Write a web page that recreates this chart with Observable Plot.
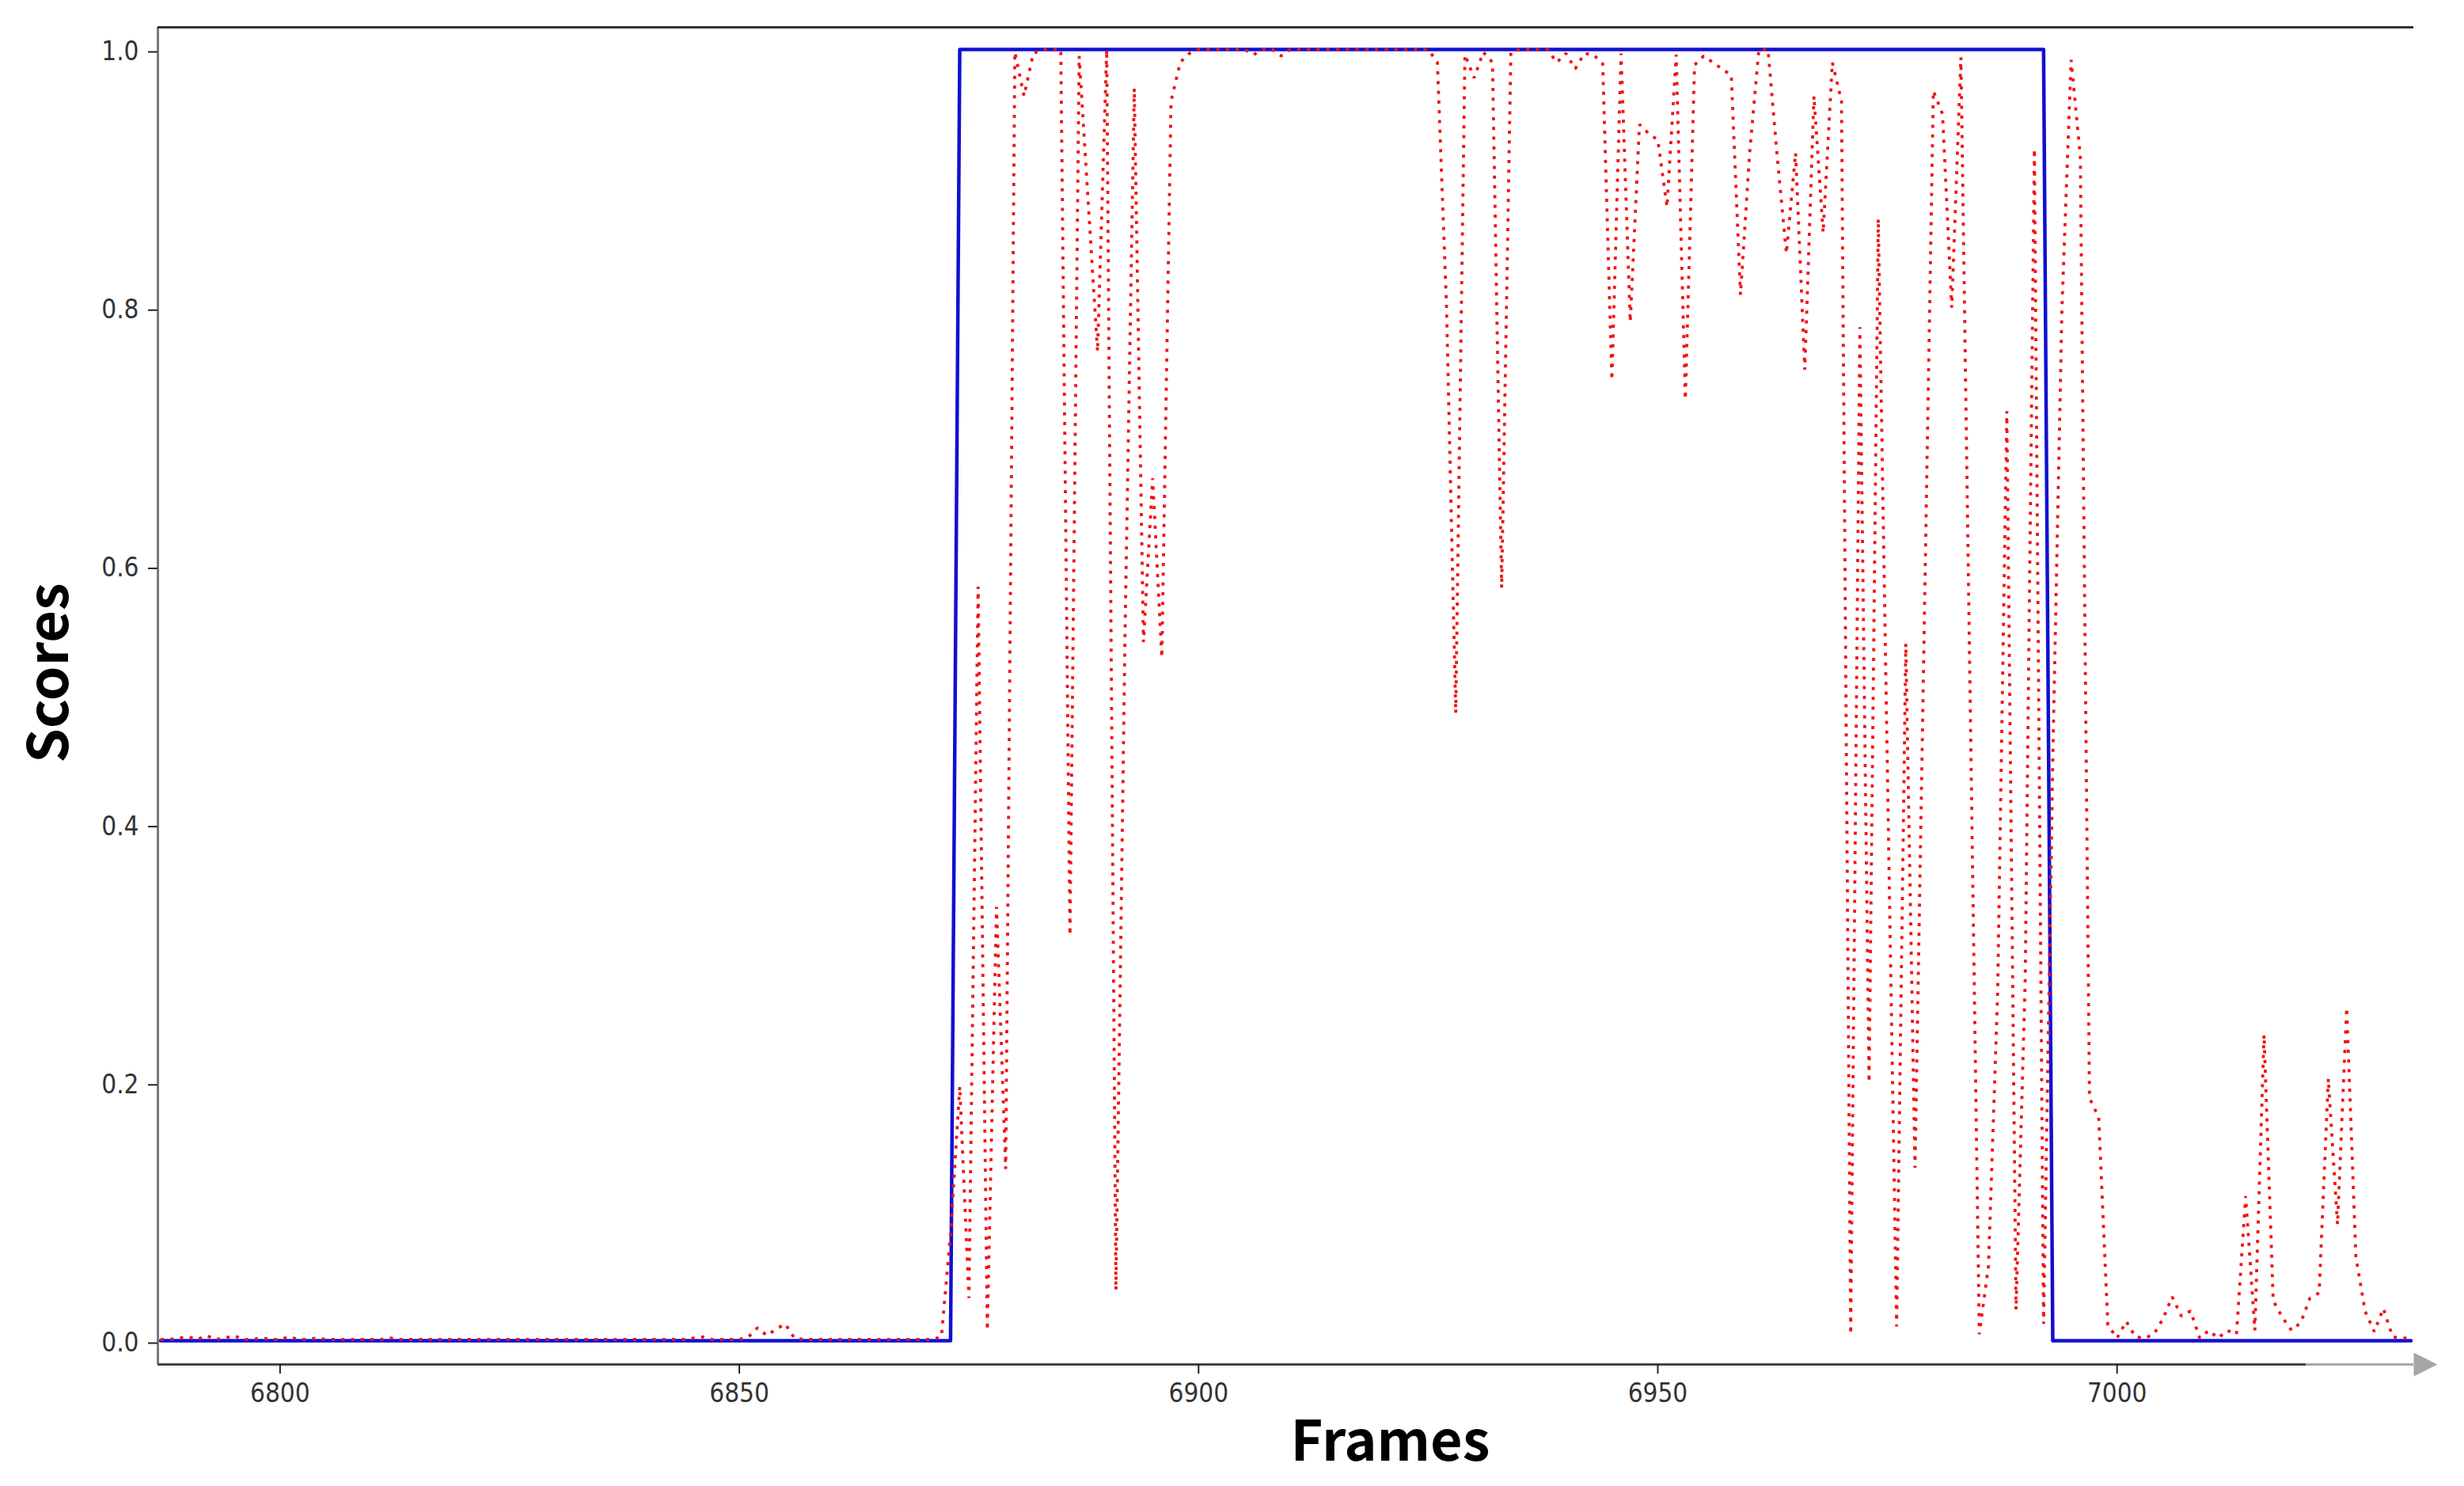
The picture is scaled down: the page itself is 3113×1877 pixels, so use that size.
<!DOCTYPE html>
<html>
<head>
<meta charset="utf-8">
<script src="https://cdn.jsdelivr.net/npm/d3@7"></script>
<script src="https://cdn.jsdelivr.net/npm/@observablehq/plot@0.6"></script>
<style>
  html, body { margin: 0; padding: 0; background: #fff; }
  #chart svg { display: block; }
</style>
</head>
<body>
<div id="chart"></div>
<script>
// ---------- data ----------
const firstFrame = 6787;
// predicted score per frame, 6787 … 7032
const scores = [
  0.001, 0.001, 0.002, 0.003, 0.001, 0.004, 0.001, 0.002, 0.004, 0.001, 0.001, 0.002, 0.001,
  0.001, 0.003, 0.001, 0.001, 0.002, 0.001, 0.001, 0.001, 0.001, 0.001,
  0.001, 0.001, 0.002, 0.001, 0.001, 0.001, 0.001, 0.001, 0.001, 0.001,
  0.001, 0.001, 0.001, 0.001, 0.001, 0.001, 0.001, 0.001, 0.001, 0.001,
  0.001, 0.001, 0.001, 0.001, 0.001, 0.001, 0.001, 0.001, 0.001, 0.001,
  0.001, 0.001, 0.001, 0.001, 0.001, 0.002, 0.003, 0.001, 0.001, 0.001,
  0.001, 0.003, 0.010, 0.004, 0.009, 0.013, 0.002, 0.001, 0.001, 0.001,
  0.001, 0.001, 0.001, 0.001, 0.001, 0.001, 0.001, 0.001, 0.001, 0.001,
  0.001, 0.001, 0.003, 0.083, 0.197, 0.033, 0.584, 0.008, 0.336, 0.133,
  0.998, 0.964, 0.997, 1.000, 1.000, 1.000, 0.314, 0.995, 0.880, 0.766,
  1.000, 0.039, 0.550, 0.970, 0.541, 0.668, 0.529, 0.960, 0.990, 0.997,
  1.000, 1.000, 1.000, 1.000, 1.000, 1.000, 0.996, 1.000, 1.000, 0.995,
  1.000, 1.000, 1.000, 1.000, 1.000, 1.000, 1.000, 1.000, 1.000, 1.000,
  1.000, 1.000, 1.000, 1.000, 1.000, 1.000, 0.990, 0.800, 0.486, 0.996,
  0.978, 0.998, 0.990, 0.583, 0.998, 1.000, 1.000, 1.000, 1.000, 0.990,
  0.997, 0.985, 0.997, 0.996, 0.989, 0.744, 0.997, 0.789, 0.942, 0.935,
  0.930, 0.878, 0.996, 0.729, 0.988, 0.995, 0.990, 0.985, 0.980, 0.810,
  0.920, 1.000, 1.000, 0.917, 0.842, 0.920, 0.752, 0.964, 0.858, 0.990,
  0.960, 0.005, 0.785, 0.200, 0.869, 0.440, 0.011, 0.540, 0.134, 0.550,
  0.968, 0.950, 0.800, 0.994, 0.500, 0.005, 0.058, 0.270, 0.720, 0.024,
  0.280, 0.923, 0.013, 0.450, 0.800, 0.992, 0.917, 0.188, 0.173, 0.012,
  0.002, 0.015, 0.003, 0.002, 0.005, 0.017, 0.034, 0.019, 0.023, 0.002,
  0.008, 0.002, 0.008, 0.005, 0.112, 0.008, 0.237, 0.031, 0.018, 0.008,
  0.014, 0.033, 0.037, 0.203, 0.090, 0.258, 0.065, 0.023, 0.007, 0.025,
  0.003, 0.002, 0.002
];
// ground-truth step (breakpoints)
const gtFrames = [6787, 6873, 6874, 6992, 6993, 7032];
const gtValues = [0, 0, 1, 1, 0, 0];

const xTicks = [6800, 6850, 6900, 6950, 7000];
const yTicks = [0, 0.2, 0.4, 0.6, 0.8, 1.0];
const xLabel = "Frames";
const yLabel = "Scores";
const axisFadeStart = 7020.6;   // where the bottom axis turns light grey

// ---------- build ----------
const frames = d3.range(firstFrame, firstFrame + scores.length);
const pred = frames.map((f, i) => ({frame: f, score: scores[i]}));
const gt = gtFrames.map((f, i) => ({frame: f, score: gtValues[i]}));

const xDomain = [6786.7, 7032.3];
const yDomain = [-0.0184, 1.0172];
const tickFont = '"DejaVu Sans Condensed", "DejaVu Sans", sans-serif';
const labelFont = '"Noto Sans CJK SC", "Noto Sans", sans-serif';

const rightTriangle = {
  draw(ctx, size) {
    const h = Math.sqrt(size);
    ctx.moveTo(h / 2, 0);
    ctx.lineTo(-h / 2, -h / 2);
    ctx.lineTo(-h / 2, h / 2);
    ctx.closePath();
  }
};

const chart = Plot.plot({
  width: 3113,
  height: 1877,
  marginLeft: 199,
  marginRight: 64,
  marginTop: 34,
  marginBottom: 154,
  x: {domain: xDomain},
  y: {domain: yDomain},
  style: {background: "#fff", fontFamily: tickFont, overflow: "visible"},
  marks: [
    Plot.line(gt, {x: "frame", y: "score", stroke: "#1010d0", strokeWidth: 4.5, clip: true}),
    Plot.line(pred, {x: "frame", y: "score", stroke: "#f01414", strokeWidth: 3.8,
      strokeDasharray: "4,8.3", strokeLinecap: "butt", strokeLinejoin: "miter", clip: true}),
    // spines
    Plot.ruleX([xDomain[0]], {stroke: "#7a7a7a", strokeWidth: 3}),
    Plot.ruleY([yDomain[1]], {stroke: "#333", strokeWidth: 3}),
    Plot.ruleY([yDomain[0]], {x1: xDomain[0], x2: axisFadeStart, stroke: "#444", strokeWidth: 3}),
    Plot.ruleY([yDomain[0]], {x1: axisFadeStart, x2: xDomain[1], stroke: "#a6a6a6", strokeWidth: 3}),
    Plot.dot([{x: xDomain[1], y: yDomain[0]}], {x: "x", y: "y", symbol: rightTriangle, r: 16.9,
      fill: "#a6a6a6", stroke: null, dx: 15}),
    // axes
    Plot.axisX({ticks: xTicks, tickFormat: d => String(d), tickSize: 12, tickPadding: 12,
      fontSize: 33, fontFamily: tickFont, label: null, stroke: "#222", fill: "#333", strokeWidth: 2}),
    Plot.axisY({ticks: yTicks, tickFormat: d3.format(".1f"), tickSize: 12, tickPadding: 12,
      fontSize: 33, fontFamily: tickFont, label: null, stroke: "#222", fill: "#333", strokeWidth: 2, dy: 3}),
    // axis titles
    Plot.text([xLabel], {frameAnchor: "bottom", dx: 132, dy: 121, lineAnchor: "bottom", textAnchor: "middle",
      fontSize: 70, fontWeight: "bold", fontFamily: labelFont, fill: "#000"}),
    Plot.text([yLabel], {frameAnchor: "left", dx: -136, dy: -29, rotate: -90, lineAnchor: "middle", textAnchor: "middle",
      fontSize: 70, fontWeight: "bold", fontFamily: labelFont, fill: "#000"})
  ]
});

document.getElementById("chart").appendChild(chart);
</script>
</body>
</html>
